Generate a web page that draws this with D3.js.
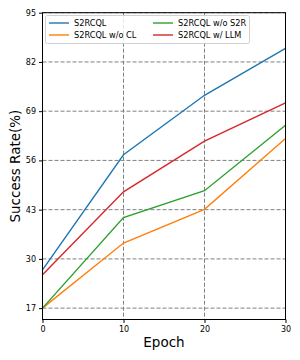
<!doctype html>
<html>
<head>
<meta charset='utf-8'>
<script src='https://cdn.jsdelivr.net/npm/d3@7'></script>
<style>
  html,body{margin:0;background:white;}
  text{font-family:'DejaVu Sans',sans-serif;}
</style>
</head>
<body>
<svg id='chart' width='300' height='360'></svg>
<script>
  // data
  var epochs = [0, 10, 20, 30]
  var yTicks = [17, 30, 43, 56, 69, 82, 95]
  var seriesNames = ['S2RCQL', 'S2RCQL w/o CL', 'S2RCQL w/o S2R', 'S2RCQL w/ LLM']
  var seriesColors = ['#1f77b4', '#ff7f0e', '#2ca02c', '#d62728']
  var full   = [27.1, 57.5, 73.2, 85.6]
  var noCL   = [17, 34.2, 43.1, 61.8]
  var noS2R  = [17, 40.9, 48.0, 65.3]
  var withLLM = [25.8, 47.7, 61.1, 71.2]
  var allSeries = [full, noCL, noS2R, withLLM]

  var plotL = 42.5, plotR = 285.5, plotT = 12.7, plotB = 319.5
  var svg = d3.select('#chart')

  var x = d3.scaleLinear().domain([0, 30]).range([plotL, plotR])
  var y = d3.scaleLinear().domain([14, 95]).range([plotB, plotT])

  // grid
  var grid = svg.append('g')
  grid.selectAll('.hg').data(yTicks).enter().append('line')
    .attr('x1', plotL).attr('x2', plotR)
    .attr('y1', function(d){ return y(d) }).attr('y2', function(d){ return y(d) })
  grid.selectAll('.vg').data(epochs).enter().append('line')
    .attr('y1', plotT).attr('y2', plotB)
    .attr('x1', function(d){ return x(d) }).attr('x2', function(d){ return x(d) })
  grid.selectAll('line')
    .attr('stroke', '#808080').attr('stroke-width', 1)
    .attr('stroke-dasharray', '4,2')

  // lines
  var line = d3.line()
    .x(function(d, i){ return x(epochs[i]) })
    .y(function(d){ return y(d) })
  svg.selectAll('.series').data(allSeries).enter().append('path')
    .attr('d', line)
    .attr('fill', 'none')
    .attr('stroke', function(d, i){ return seriesColors[i] })
    .attr('stroke-width', 1.4)

  // frame
  svg.append('rect')
    .attr('x', plotL).attr('y', plotT)
    .attr('width', plotR - plotL).attr('height', plotB - plotT)
    .attr('fill', 'none').attr('stroke', 'black').attr('stroke-width', 1)

  // axes
  svg.append('g').attr('transform', 'translate(0,' + plotB + ')')
    .call(d3.axisBottom(x).tickValues(epochs).tickSize(3.5).tickPadding(3))
  svg.append('g').attr('transform', 'translate(' + plotL + ',0)')
    .call(d3.axisLeft(y).tickValues(yTicks).tickSize(3.5).tickPadding(3))
  svg.selectAll('.domain').remove()
  svg.selectAll('.tick text').attr('font-size', 8).attr('font-family', "'DejaVu Sans',sans-serif").attr('fill', 'black')
  svg.selectAll('.tick line').attr('stroke', 'black')

  svg.append('text').attr('x', (plotL + plotR) / 2).attr('y', 347)
    .attr('text-anchor', 'middle').attr('font-size', 13.5).text('Epoch')
  svg.append('text')
    .attr('transform', 'translate(19.5,' + ((plotT + plotB) / 2) + ') rotate(-90)')
    .attr('text-anchor', 'middle').attr('font-size', 13.5).text('Success Rate(%)')

  // legend
  var lg = svg.append('g')
  lg.append('rect').attr('x', 45.5).attr('y', 15.5).attr('width', 204).attr('height', 28)
    .attr('rx', 2).attr('fill', 'white').attr('fill-opacity', 0.8)
    .attr('stroke', '#d0d0d0').attr('stroke-width', 1)
  var items = lg.selectAll('.item').data(seriesNames).enter().append('g')
    .attr('transform', function(d, i){
      return 'translate(' + (i < 2 ? 49 : 153) + ',' + (23 + (i % 2) * 12) + ')'
    })
  items.append('line').attr('x1', 0).attr('x2', 20)
    .attr('stroke', function(d, i){ return seriesColors[i] }).attr('stroke-width', 1.4)
  items.append('text').attr('x', 25).attr('dy', '0.35em').attr('font-size', 8.2).text(function(d){ return d })
</script>
</body>
</html>
